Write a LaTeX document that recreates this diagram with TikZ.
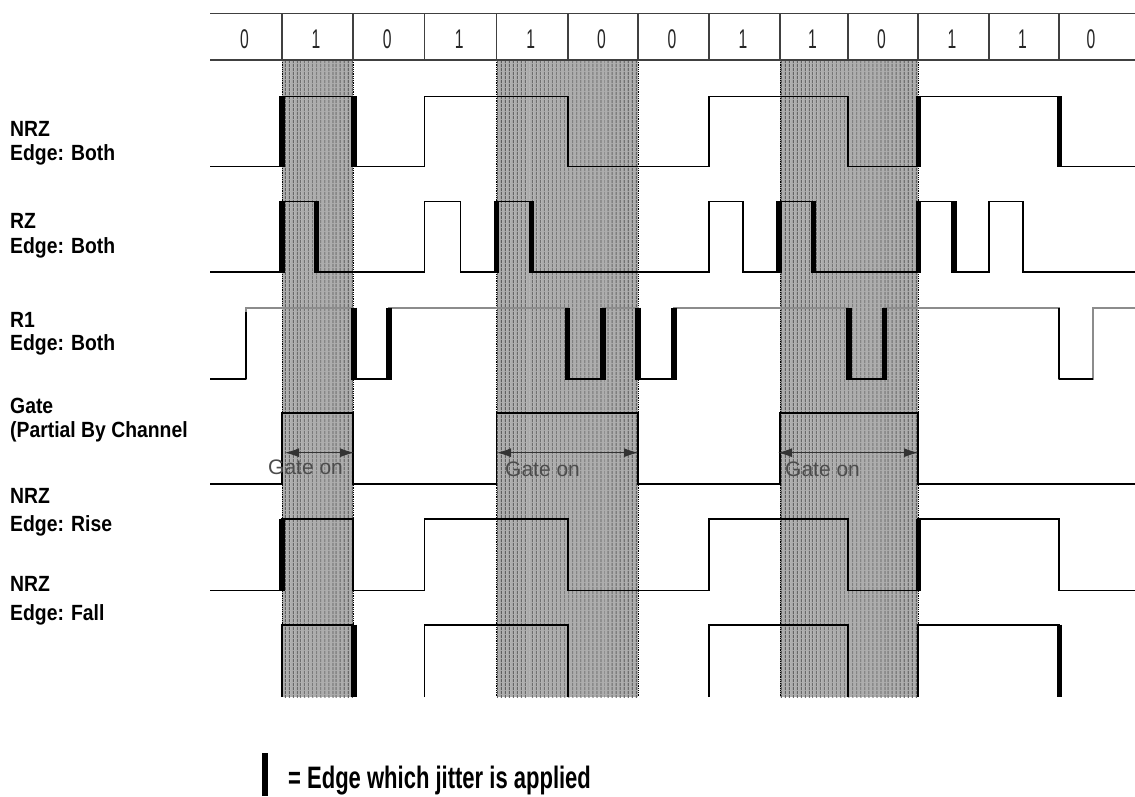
\documentclass[tikz,border=0pt]{standalone}
\usepackage{fontspec}
\setmainfont{Liberation Sans}
\usetikzlibrary{arrows.meta,patterns.meta}
\begin{document}
\begin{tikzpicture}[x=1pt,y=-1pt,
  wave/.style={line width=1.1pt, black, line join=miter},
  wavegray/.style={line width=1.1pt, black!45},
  jit/.style={line width=5.5pt, black},
  band/.style={fill=black!32, postaction={pattern={Lines[angle=90,distance=4pt,line width=1.3pt]}, pattern color=black!65}},
  bandedge/.style={black, line width=0.8pt, densely dotted},
  hdr/.style={line width=1.2pt, black!75},
  lbl/.style={anchor=base west, inner sep=0pt, font=\fontsize{22}{26}\selectfont\bfseries},
  bit/.style={inner sep=0pt, font=\fontsize{27}{31}\selectfont, text=black!85},
  gtxt/.style={anchor=base west, inner sep=0pt, font=\fontsize{21}{25}\selectfont, text=black!70},
  garrow/.style={line width=1pt, black!80, {Latex[length=14pt,width=9pt]}-{Latex[length=14pt,width=9pt]}},
  legtxt/.style={anchor=base west, inner sep=0pt, font=\fontsize{31}{36}\selectfont\bfseries}
]
\useasboundingbox[fill=white] (0,0) rectangle (1135,796);

% shaded gate bands
\foreach \xa/\xb in {282/353, 496.7/638, 780/918}{
  \path[band] (\xa,60) rectangle (\xb,697);
  \draw[bandedge] (\xa,60) -- (\xa,697);
  \draw[bandedge] (\xb,60) -- (\xb,697);
}

% header
\draw[hdr] (210,13.3) -- (1135,13.3);
\draw[hdr] (210,60) -- (1135,60);
\foreach \bx in {282,353,424.7,496.7,568,638,709,780,848,918,989,1059}{
  \draw[hdr] (\bx,13.3) -- (\bx,60);
}
\foreach \cx/\b [count=\i] in {244.5/0,316/1,387.3/0,459.2/1,530.8/1,601.5/0,672/0,743/1,812.5/1,881.5/0,952/1,1022.5/1,1091/0}{
  \node[bit] (bit\i) at (\cx,38.8) {\scalebox{0.58}[1]{\b}};
}

% labels
\node[lbl] (l1a) at (10,136) {\scalebox{0.88}[1]{NRZ}};
\node[lbl] (l1b) at (10,160) {\scalebox{0.88}[1]{Edge: Both}};
\node[lbl] (l2a) at (10,228) {\scalebox{0.88}[1]{RZ}};
\node[lbl] (l2b) at (10,253) {\scalebox{0.88}[1]{Edge: Both}};
\node[lbl] (l3a) at (10,327) {\scalebox{0.88}[1]{R1}};
\node[lbl] (l3b) at (10,350) {\scalebox{0.88}[1]{Edge: Both}};
\node[lbl] (l4a) at (10,413) {\scalebox{0.88}[1]{Gate}};
\node[lbl] (l4b) at (10,437) {\scalebox{0.88}[1]{(Partial By Channel}};
\node[lbl] (l5a) at (10,503) {\scalebox{0.88}[1]{NRZ}};
\node[lbl] (l5b) at (10,531) {\scalebox{0.88}[1]{Edge: Rise}};
\node[lbl] (l6a) at (10,591) {\scalebox{0.88}[1]{NRZ}};
\node[lbl] (l6b) at (10,620) {\scalebox{0.88}[1]{Edge: Fall}};

% row 1: NRZ, edge both (H=96.7, L=166.7)
\draw[wave] (210,166.7) -- (282,166.7) -- (282,96.7) -- (353,96.7) -- (353,166.7)
  -- (424.7,166.7) -- (424.7,96.7) -- (568,96.7) -- (568,166.7) -- (709,166.7)
  -- (709,96.7) -- (848,96.7) -- (848,166.7) -- (918,166.7) -- (918,96.7)
  -- (1059,96.7) -- (1059,166.7) -- (1135,166.7);
\foreach \ex in {282,354,918.5,1059.5}{\draw[jit] (\ex,96.2) -- (\ex,167.2);}

% row 2: RZ, edge both (H=201.7, L=272)
\draw[wave] (210,272) -- (282,272) -- (282,201.7) -- (316.5,201.7) -- (316.5,272)
  -- (424.7,272) -- (424.7,201.7) -- (460.7,201.7) -- (460.7,272)
  -- (496.7,272) -- (496.7,201.7) -- (531.5,201.7) -- (531.5,272)
  -- (709,272) -- (709,201.7) -- (743,201.7) -- (743,272)
  -- (779,272) -- (779,201.7) -- (813.5,201.7) -- (813.5,272)
  -- (918,272) -- (918,201.7) -- (954,201.7) -- (954,272)
  -- (989,272) -- (989,201.7) -- (1023,201.7) -- (1023,272) -- (1135,272);
\foreach \ex in {282,316.5,496.5,531.5,779,813.5,918.5,954}{\draw[jit] (\ex,201.2) -- (\ex,272.5);}

% row 3: R1, edge both (H=308, L=379)
\draw[wavegray] (210,379) -- (246,379) -- (246,308) -- (353,308) -- (353,379)
  -- (389,379) -- (389,308) -- (568,308) -- (568,379) -- (603,379) -- (603,308)
  -- (638,308) -- (638,379) -- (674,379) -- (674,308) -- (848,308) -- (848,379)
  -- (884,379) -- (884,308) -- (1059,308) -- (1059,379) -- (1093,379) -- (1093,308)
  -- (1135,308);
\foreach \xa/\xb in {210/246,353/389,568/603,638/674,848/884,1059/1093}{
  \draw[wave] (\xa,379) -- (\xb,379);
}
\draw[wave] (1059,308) -- (1059,379);
\draw[wave] (246,379) -- (246,312);
\foreach \ex in {354,389,567.5,603,638,674,849,884.5}{\draw[jit] (\ex,307.5) -- (\ex,379.5);}

% row 4: gate (H=413, L=484)
\draw[wave] (210,484) -- (282,484) -- (282,413) -- (353,413) -- (353,484)
  -- (496.7,484) -- (496.7,413) -- (638,413) -- (638,484) -- (780,484)
  -- (780,413) -- (918,413) -- (918,484) -- (1135,484);
\coordinate (g1a) at (285,452.7);
\coordinate (g1b) at (354,452.7);
\coordinate (g2a) at (497,452.7);
\coordinate (g2b) at (638,452.7);
\coordinate (g3a) at (778,452.7);
\coordinate (g3b) at (918,452.7);
\draw[garrow] (g1a) -- (g1b);
\draw[garrow] (g2a) -- (g2b);
\draw[garrow] (g3a) -- (g3b);
\node[gtxt] (gt1) at (268,474) {Gate on};
\node[gtxt] (gt2) at (505,476) {Gate on};
\node[gtxt] (gt3) at (785,476) {Gate on};

% row 5: NRZ, edge rise (H=519, L=590.7)
\draw[wave] (210,590.7) -- (282,590.7) -- (282,519) -- (353,519) -- (353,590.7)
  -- (424.7,590.7) -- (424.7,519) -- (568,519) -- (568,590.7) -- (709,590.7)
  -- (709,519) -- (848,519) -- (848,590.7) -- (918,590.7) -- (918,519)
  -- (1059,519) -- (1059,590.7) -- (1135,590.7);
\foreach \ex in {282,918.5}{\draw[jit] (\ex,518.5) -- (\ex,591.2);}

% row 6: NRZ, edge fall (H=625, clipped at 697)
\draw[wave] (282,697) -- (282,625) -- (353,625) -- (353,697);
\draw[wave] (424.7,697) -- (424.7,625) -- (568,625) -- (568,697);
\draw[wave] (709,697) -- (709,625) -- (848,625) -- (848,697);
\draw[wave] (918,697) -- (918,625) -- (1059,625) -- (1059,697);
\foreach \ex in {354,1059.5}{\draw[jit] (\ex,624.5) -- (\ex,697);}

% legend
\draw[jit] (265,753) -- (265,796);
\node[legtxt] (leg) at (288,788) {\scalebox{0.71}[1]{= Edge which jitter is applied}};
\end{tikzpicture}
\end{document}
